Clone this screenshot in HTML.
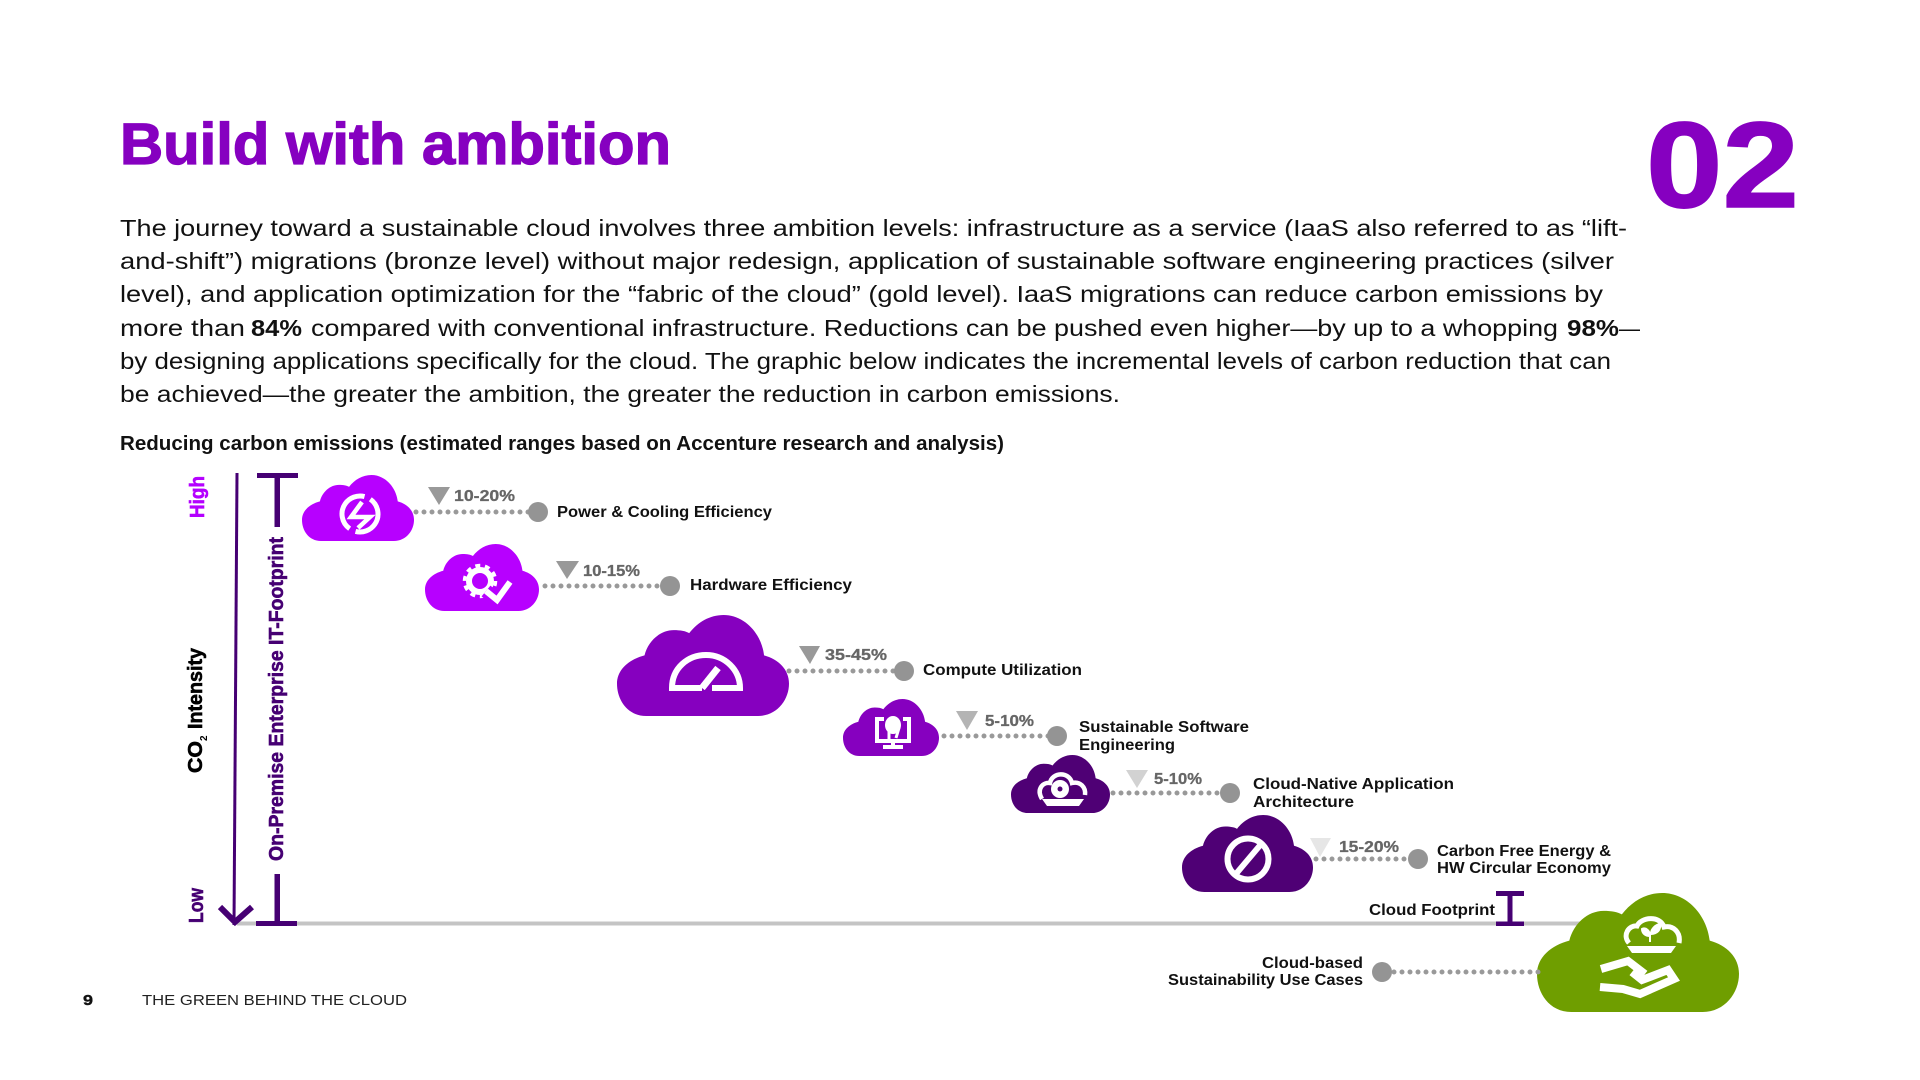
<!DOCTYPE html>
<html lang="en">
<head>
<meta charset="utf-8">
<title>Build with ambition</title>
<style>
html,body{margin:0;padding:0;background:#fff;width:1920px;height:1080px;overflow:hidden}
svg{display:block}
text{font-family:"Liberation Sans",sans-serif}
.b{font-size:23px;fill:#111}
.bb{font-size:23px;fill:#111;font-weight:700}
.l{font-size:15.5px;font-weight:700;fill:#111}
.p{font-size:16px;font-weight:700;fill:#666;stroke:#666;stroke-width:.3}
.r{font-size:20px;font-weight:700;stroke-width:.6}
.dot{stroke:#999;stroke-width:5;stroke-linecap:round;stroke-dasharray:0 8;fill:none}
.w{fill:none;stroke:#fff;stroke-width:6}
</style>
</head>
<body>
<svg width="1920" height="1080" viewBox="0 0 1920 1080" xmlns="http://www.w3.org/2000/svg">
<defs>
<symbol id="c" viewBox="0 0 100 100" preserveAspectRatio="none">
<path d="M17 100C6 100 0 84 0 68C0 54 7 44 16 40C18 26 25 15 33 15C37 15 40 16 42 18C47 7 54 0 62 0C74 0 84 18 85.5 40C94 44 100 54 100 68C100 84 93 100 82 100Z"/>
</symbol>
</defs>

<text x="120" y="164" font-size="58" font-weight="700" fill="#8600c0" stroke="#8600c0" stroke-width="1.300" textLength="551" lengthAdjust="spacingAndGlyphs">Build with ambition</text>
<text x="1646" y="207" font-size="122" font-weight="700" fill="#8600c0" stroke="#8600c0" stroke-width="1.500" textLength="153" lengthAdjust="spacingAndGlyphs">02</text>

<text class="b" x="120" y="236" textLength="1507" lengthAdjust="spacingAndGlyphs">The journey toward a sustainable cloud involves three ambition levels: infrastructure as a service (IaaS also referred to as “lift-</text>
<text class="b" x="120" y="269" textLength="1494" lengthAdjust="spacingAndGlyphs">and-shift”) migrations (bronze level) without major redesign, application of sustainable software engineering practices (silver</text>
<text class="b" x="120" y="302" textLength="1483" lengthAdjust="spacingAndGlyphs">level), and application optimization for the “fabric of the cloud” (gold level). IaaS migrations can reduce carbon emissions by</text>
<text class="b" x="120" y="336" textLength="125" lengthAdjust="spacingAndGlyphs">more than</text>
<text class="bb" x="251" y="336" textLength="51" lengthAdjust="spacingAndGlyphs">84%</text>
<text class="b" x="311" y="336" textLength="1247" lengthAdjust="spacingAndGlyphs">compared with conventional infrastructure. Reductions can be pushed even higher—by up to a whopping</text>
<text class="bb" x="1567" y="336" textLength="52" lengthAdjust="spacingAndGlyphs">98%</text>
<text class="b" x="1619" y="336" textLength="21" lengthAdjust="spacingAndGlyphs">—</text>
<text class="b" x="120" y="369" textLength="1491" lengthAdjust="spacingAndGlyphs">by designing applications specifically for the cloud. The graphic below indicates the incremental levels of carbon reduction that can</text>
<text class="b" x="120" y="402" textLength="1000" lengthAdjust="spacingAndGlyphs">be achieved—the greater the ambition, the greater the reduction in carbon emissions.</text>
<text x="120" y="450" font-size="20" font-weight="700" fill="#111" textLength="884" lengthAdjust="spacingAndGlyphs">Reducing carbon emissions (estimated ranges based on Accenture research and analysis)</text>

<!-- axis -->
<rect x="237" y="921.5" width="1345" height="4" fill="#c4c4c4"/>
<path d="M237 473L234 925" stroke="#460073" stroke-width="3" fill="none"/>
<path d="M220 907L235 922L252 907" stroke="#460073" stroke-width="6" fill="none"/>
<rect x="257" y="473" width="41" height="5" fill="#460073"/>
<rect x="274.500" y="473" width="5.500" height="54" fill="#460073"/>
<rect x="274.500" y="874" width="5.500" height="50" fill="#460073"/>
<rect x="256" y="921" width="41" height="5" fill="#460073"/>

<text class="r" transform="translate(204 518) rotate(-90)" fill="#b400ff" stroke="#b400ff" textLength="42" lengthAdjust="spacingAndGlyphs">High</text>
<text class="r" transform="translate(202 773) rotate(-90)" fill="#000" stroke="#000" textLength="32" lengthAdjust="spacingAndGlyphs">CO</text>
<text transform="translate(207 741) rotate(-90)" font-size="10" font-weight="700" fill="#000">2</text>
<text class="r" transform="translate(202 729) rotate(-90)" fill="#000" stroke="#000" textLength="81" lengthAdjust="spacingAndGlyphs">Intensity</text>
<text class="r" transform="translate(203 923) rotate(-90)" fill="#460073" stroke="#460073" textLength="35" lengthAdjust="spacingAndGlyphs">Low</text>
<text class="r" transform="translate(283 861) rotate(-90)" fill="#460073" stroke="#460073" textLength="324" lengthAdjust="spacingAndGlyphs">On-Premise Enterprise IT-Footprint</text>

<!-- clouds -->
<use href="#c" x="302" y="475" width="112" height="66" fill="#b700ff"/>
<use href="#c" x="425" y="544" width="114" height="67" fill="#b700ff"/>
<use href="#c" x="617" y="615" width="172" height="101" fill="#8600bf"/>
<use href="#c" x="843" y="699" width="96" height="57" fill="#8600bf"/>
<use href="#c" x="1011" y="755" width="99" height="58" fill="#4f0075"/>
<use href="#c" x="1182" y="815" width="131" height="77" fill="#4f0075"/>
<use href="#c" x="1537" y="893" width="202" height="119" fill="#6f9e00"/>

<!-- icon 1 -->
<circle cx="360" cy="514" r="18" fill="none" stroke="#fff" stroke-width="5" stroke-dasharray="50 6.500" transform="rotate(-55 360 514)"/>
<path d="M362 502L351 517L370 517L358 528" fill="none" stroke="#fff" stroke-width="4.500"/>
<!-- icon 2 -->
<circle cx="480" cy="581" r="11" fill="none" stroke="#fff" stroke-width="6"/>
<circle cx="480" cy="581" r="15.500" fill="none" stroke="#fff" stroke-width="3.500" stroke-dasharray="5 4.740"/>
<path d="M486 591L497 600L510 582" fill="none" stroke="#b700ff" stroke-width="14"/>
<path d="M486 591L497 600L510 582" fill="none" stroke="#fff" stroke-width="6"/>
<!-- icon 3 -->
<path d="M702 688H672C672 668 688 655 706 655C725 655 740 670 740 688H712" class="w"/>
<path d="M702 688L718 668" class="w" style="stroke-width:7"/>
<!-- icon 4 -->
<path d="M884 719H877V741H909V719H903" fill="none" stroke="#fff" stroke-width="4"/>
<rect x="883" y="745" width="20" height="4" fill="#fff"/>
<rect x="891" y="741" width="4" height="5" fill="#fff"/>
<ellipse cx="893" cy="725" rx="8" ry="9" fill="#fff"/>
<path d="M889 731V739M899 728L896 738" stroke="#fff" stroke-width="3" fill="none"/>
<!-- icon 5 -->
<path d="M1042 799C1036 789 1043 782 1050 783C1052 772 1069 771 1072 783C1080 781 1086 787 1085 795" fill="none" stroke="#fff" stroke-width="4.500"/>
<path d="M1042 799L1047 806H1079L1084 799H1062Z" fill="#fff"/>
<circle cx="1060" cy="789" r="9" fill="#fff"/>
<circle cx="1060" cy="789" r="2.500" fill="#4f0075"/>
<!-- icon 6 -->
<circle cx="1248" cy="859" r="20.500" fill="none" stroke="#fff" stroke-width="6"/>
<path d="M1235 875L1262 843" fill="none" stroke="#fff" stroke-width="6"/>
<!-- icon 7 -->
<path d="M1629 943C1622 935 1629 925 1637 926C1641 917 1660 915 1664 927C1673 925 1681 932 1679 943" fill="none" stroke="#fff" stroke-width="5"/>
<path d="M1627 946H1676L1671 953H1632Z" fill="#fff"/>
<path d="M1650 942V934M1642 929C1646 927 1650 931 1650 936C1645 936 1642 933 1642 929ZM1660 924C1661 930 1657 934 1651 934C1651 929 1655 925 1660 924Z" fill="#fff" stroke="#fff" stroke-width="2"/>
<path d="M1601 969L1628 961L1645 974" fill="none" stroke="#fff" stroke-width="8"/>
<path d="M1632 972L1642 980L1668 970L1674 979L1640 994L1623 989L1600 987" fill="none" stroke="#fff" stroke-width="8"/>

<!-- connectors -->
<path class="dot" d="M416 512H530"/><circle cx="538" cy="512" r="10" fill="#949494"/>
<path class="dot" d="M545 586H663"/><circle cx="670" cy="586" r="10" fill="#949494"/>
<path class="dot" d="M789 671H897"/><circle cx="904" cy="671" r="10" fill="#949494"/>
<path class="dot" d="M944 736H1050"/><circle cx="1057" cy="736" r="10" fill="#949494"/>
<path class="dot" d="M1113 793H1223"/><circle cx="1230" cy="793" r="10" fill="#949494"/>
<path class="dot" d="M1316 859H1410"/><circle cx="1418" cy="859" r="10" fill="#949494"/>
<path class="dot" d="M1394 972H1540"/><circle cx="1382" cy="972" r="10" fill="#949494"/>

<polygon points="428,487 450,487 439,505" fill="#999"/>
<polygon points="556,561 579,561 567,579" fill="#999"/>
<polygon points="799,646 820,646 810,664" fill="#999"/>
<polygon points="956,711 978,711 967,730" fill="#b4b4b4"/>
<polygon points="1126,770 1148,770 1137,788" fill="#d2d2d2"/>
<polygon points="1310,838 1331,838 1320,857" fill="#e6e6e6"/>

<text class="p" x="454" y="501" textLength="61" lengthAdjust="spacingAndGlyphs">10-20%</text>
<text class="p" x="583" y="576" textLength="57" lengthAdjust="spacingAndGlyphs">10-15%</text>
<text class="p" x="825" y="660" textLength="62" lengthAdjust="spacingAndGlyphs">35-45%</text>
<text class="p" x="985" y="726" textLength="49" lengthAdjust="spacingAndGlyphs">5-10%</text>
<text class="p" x="1154" y="784" textLength="48" lengthAdjust="spacingAndGlyphs">5-10%</text>
<text class="p" x="1339" y="852" textLength="60" lengthAdjust="spacingAndGlyphs">15-20%</text>

<text class="l" x="557" y="517" textLength="215" lengthAdjust="spacingAndGlyphs">Power &amp; Cooling Efficiency</text>
<text class="l" x="690" y="590" textLength="162" lengthAdjust="spacingAndGlyphs">Hardware Efficiency</text>
<text class="l" x="923" y="675" textLength="159" lengthAdjust="spacingAndGlyphs">Compute Utilization</text>
<text class="l" x="1079" y="732" textLength="170" lengthAdjust="spacingAndGlyphs">Sustainable Software</text>
<text class="l" x="1079" y="750" textLength="96" lengthAdjust="spacingAndGlyphs">Engineering</text>
<text class="l" x="1253" y="789" textLength="201" lengthAdjust="spacingAndGlyphs">Cloud-Native Application</text>
<text class="l" x="1253" y="807" textLength="101" lengthAdjust="spacingAndGlyphs">Architecture</text>
<text class="l" x="1437" y="856" textLength="174" lengthAdjust="spacingAndGlyphs">Carbon Free Energy &amp;</text>
<text class="l" x="1437" y="873" textLength="174" lengthAdjust="spacingAndGlyphs">HW Circular Economy</text>
<text class="l" x="1369" y="915" textLength="126" lengthAdjust="spacingAndGlyphs">Cloud Footprint</text>
<text class="l" x="1262" y="968" textLength="101" lengthAdjust="spacingAndGlyphs">Cloud-based</text>
<text class="l" x="1168" y="985" textLength="195" lengthAdjust="spacingAndGlyphs">Sustainability Use Cases</text>

<rect x="1496" y="891" width="28" height="5" fill="#460073"/>
<rect x="1507.500" y="891" width="5" height="35" fill="#460073"/>
<rect x="1496" y="921.500" width="28" height="4.500" fill="#460073"/>

<!-- footer -->
<text x="83" y="1011" font-size="15" font-weight="700" fill="#111" stroke="#111" stroke-width=".4" textLength="10" lengthAdjust="spacingAndGlyphs" dy="-6">9</text>
<text x="142" y="1005" font-size="15" fill="#222" textLength="265" lengthAdjust="spacingAndGlyphs">THE GREEN BEHIND THE CLOUD</text>
</svg>
</body>
</html>
